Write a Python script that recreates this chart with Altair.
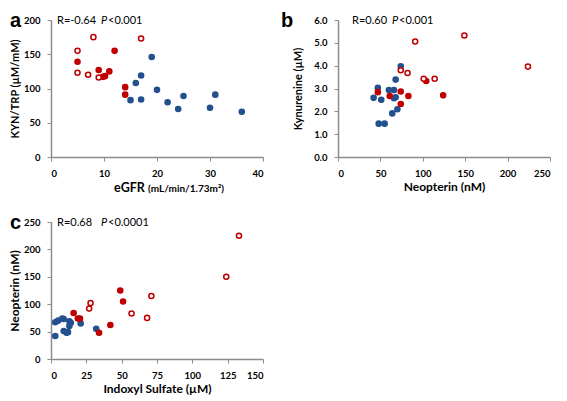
import altair as alt
import pandas as pd

# ---------------- data ----------------
# Panel a: eGFR vs KYN/TRP
a_blue_x = [19, 17, 16, 20, 15, 17, 22, 25, 24, 30, 31, 36]
a_blue_y = [146, 119, 108, 98, 83, 84, 80, 89, 70, 72, 91, 66]
a_fill_x = [5, 9, 9.8, 10.2, 11, 12, 14, 14]
a_fill_y = [139, 127, 117, 118, 125, 155, 102, 91]
a_open_x = [5, 8, 17, 5, 7, 9]
a_open_y = [155, 175, 173, 123, 120, 116]

# Panel b: Neopterin vs Kynurenine
b_blue_x = [74, 68, 47, 42, 51, 60, 66, 68, 66, 64, 70, 48, 55]
b_blue_y = [3.97, 3.39, 3.03, 2.59, 2.51, 2.93, 2.93, 2.62, 2.57, 1.91, 2.09, 1.46, 1.46]
b_fill_x = [104, 124, 83, 74, 74, 61, 47]
b_fill_y = [3.33, 2.70, 2.67, 2.87, 2.32, 2.67, 2.84]
b_open_x = [91, 149, 224, 74, 82, 101, 114]
b_open_y = [5.06, 5.32, 3.96, 3.80, 3.68, 3.43, 3.43]

# Panel c: Indoxyl Sulfate vs Neopterin
c_blue_x = [3, 5, 8, 3, 9, 11, 13, 14, 13, 21, 32, 9, 12]
c_blue_y = [67, 70, 74, 42, 51, 48, 69, 66, 60, 65, 55, 73, 49]
c_fill_x = [49, 51, 42, 34, 16, 19, 20.5]
c_fill_y = [125, 105, 62, 48, 84, 74, 74]
c_open_x = [133, 124, 71, 57, 68, 28, 27]
c_open_y = [225, 150, 115, 83, 75, 102, 92]

GROUPS = ["blue", "filled", "open"]
FILLS = ["#23508e", "#c00000", "#ffffff"]
STROKES = ["#23508e", "#c00000", "#c00000"]

FONT = "Lato"
W, H = 212, 137


def make_df(bx, by, fx, fy, ox, oy):
    rows = []
    for g, xs, ys in (("blue", bx, by), ("filled", fx, fy), ("open", ox, oy)):
        for xv, yv in zip(xs, ys):
            rows.append({"x": xv, "y": yv, "g": g})
    return pd.DataFrame(rows)


def txt(s, x, y, size=11, weight="normal", style="normal", font=FONT,
        baseline="middle"):
    return alt.Chart(pd.DataFrame({"t": [s]})).mark_text(
        align="left", baseline=baseline, font=font, fontSize=size,
        fontWeight=weight, fontStyle=style, color="black"
    ).encode(x=alt.value(x), y=alt.value(y), text="t:N")


def panel(df, xdom, xticks, ydom, yticks, yfmt, xtitle, ytitle, ytpad, ytsize,
          letter, letter_x, r_text, p_rest, r_x, p_x, extra=()):
    pts = alt.Chart(df).mark_point(shape="circle", size=26, strokeWidth=1.5,
                                   opacity=1, filled=False).encode(
        x=alt.X("x:Q", scale=alt.Scale(domain=xdom, nice=False, zero=True),
                axis=alt.Axis(values=xticks, title=xtitle, format="d")),
        y=alt.Y("y:Q", scale=alt.Scale(domain=ydom, nice=False, zero=True),
                axis=alt.Axis(values=yticks, title=ytitle, format=yfmt,
                              titlePadding=ytpad, titleFontSize=ytsize)),
        fill=alt.Fill("g:N", scale=alt.Scale(domain=GROUPS, range=FILLS), legend=None),
        stroke=alt.Stroke("g:N", scale=alt.Scale(domain=GROUPS, range=STROKES), legend=None),
        order=alt.Order("o:Q"),
    ).transform_calculate(
        o="datum.g === 'blue' ? 0 : (datum.g === 'filled' ? 1 : 2)"
    )
    # invisible spacer that fixes the top of each panel's extent
    spacer = alt.Chart(pd.DataFrame({"k": [0]})).mark_rule(
        color="white", strokeOpacity=0, strokeWidth=1
    ).encode(x=alt.value(0), x2=alt.value(1), y=alt.value(-12))
    layers = [pts, spacer,
              txt(r_text, r_x, 1),
              txt("P", p_x, 1, style="italic"),
              txt(p_rest, p_x + 7, 1),
              txt(letter, letter_x, 6.5, size=20, weight="bold",
                  font="Liberation Sans", baseline="alphabetic")]
    layers += list(extra)
    return alt.layer(*layers).properties(width=W, height=H)


pa = panel(make_df(a_blue_x, a_blue_y, a_fill_x, a_fill_y, a_open_x, a_open_y),
           [0, 40], [0, 10, 20, 30, 40], [0, 200], [0, 50, 100, 150, 200], "d",
           "", "KYN/TRP (µM/mM)", 3, 11, "a", -41,
           "R=-0.64", "<0.001", 6, 50,
           extra=[txt("eGFR", 63, H + 35, size=12.5, weight="bold", baseline="alphabetic"),
                  txt("(mL/min/1.73m²)", 97, H + 35, size=10, weight="bold",
                      baseline="alphabetic")])
pb = panel(make_df(b_blue_x, b_blue_y, b_fill_x, b_fill_y, b_open_x, b_open_y),
           [0, 250], [0, 50, 100, 150, 200, 250], [0, 6], [0, 1, 2, 3, 4, 5, 6], ".1f",
           "Neopterin (nM)", "Kynurenine  (µM)", 10, 11, "b", -57,
           "R=0.60", "<0.001", 14, 54)
pc = panel(make_df(c_blue_x, c_blue_y, c_fill_x, c_fill_y, c_open_x, c_open_y),
           [0, 150], [0, 25, 50, 75, 100, 125, 150], [0, 250], [0, 50, 100, 150, 200, 250], "d",
           "Indoxyl Sulfate (µM)", "Neopterin (nM)", 2, 12, "c", -41,
           "R=0.68", "<0.0001", 6, 50)

chart = alt.concat(pa, pb, pc, columns=2, spacing={"row": 65, "column": 75},
                   bounds="flush").properties(
    padding={"left": 0, "top": 0, "right": 0, "bottom": 0}
).configure_view(stroke=None).configure_axis(
    grid=False, domainColor="#8c8c8c", tickColor="#8c8c8c", tickSize=4,
    domainWidth=1.5, tickWidth=1,
    labelFont=FONT, labelFontSize=9.5, labelFontWeight="bold", labelColor="black",
    labelPadding=7,
    titleFont=FONT, titleFontSize=12, titleFontWeight="bold", titleColor="black",
).configure_axisX(titlePadding=4)

chart.save("out.html", embed_options={"renderer": "svg", "actions": False})
